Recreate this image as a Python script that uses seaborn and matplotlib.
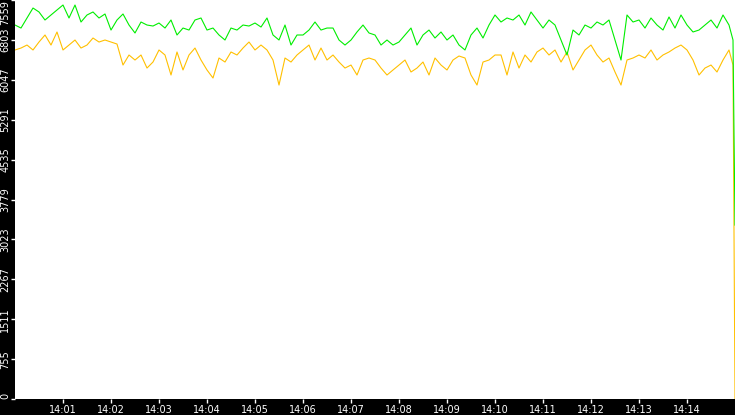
import numpy as np
import pandas as pd
import matplotlib
matplotlib.use("Agg")
import matplotlib.pyplot as plt
import seaborn as sns

# seconds after 14:00:00
times = [i * 7.5 for i in range(120)] + [897.5, 900.0]

green = [7085, 7028, 7218, 7407, 7332, 7180, 7275, 7370, 7464, 7218, 7464, 7142, 7275, 7332, 7218, 7294, 6990, 7180, 7294, 7085,
         6934, 7142, 7085, 7066, 7123, 7028, 7180, 6896, 7028, 6990, 7180, 7218, 6990, 7028, 6896, 6801, 7028, 6990, 7085, 7066,
         7123, 7047, 7218, 6896, 6801, 7085, 6706, 6896, 6896, 6990, 7142, 6990, 7028, 7028, 6801, 6706, 6801, 6953, 7085, 6934,
         6896, 6706, 6801, 6706, 6763, 6896, 7028, 6706, 6896, 6990, 6839, 6953, 6801, 6896, 6706, 6612, 6896, 7028, 6839, 7085,
         7275, 7142, 7218, 7180, 7275, 7085, 7332, 7180, 7028, 7180, 7085, 6801, 6517, 6990, 6896, 7085, 7028, 7142, 7085, 7180,
         6801, 6422, 7275, 7142, 7180, 7028, 7218, 7085, 6990, 7237, 7028, 7275, 7085, 6953, 6990, 7085, 7180, 7028, 7275, 7085,
         6801, 3295]

orange = [6612, 6649, 6706, 6612, 6763, 6896, 6706, 6953, 6612, 6706, 6801, 6649, 6706, 6839, 6763, 6801, 6763, 6725, 6327, 6517,
          6422, 6517, 6270, 6384, 6612, 6517, 6138, 6574, 6233, 6517, 6649, 6422, 6233, 6081, 6460, 6384, 6574, 6517, 6649, 6763,
          6612, 6706, 6612, 6422, 5948, 6460, 6384, 6517, 6612, 6706, 6422, 6649, 6422, 6517, 6384, 6270, 6327, 6138, 6422, 6460,
          6422, 6270, 6138, 6233, 6327, 6422, 6195, 6270, 6384, 6138, 6460, 6327, 6233, 6422, 6498, 6460, 6138, 5948, 6384, 6422,
          6517, 6517, 6138, 6574, 6270, 6517, 6384, 6574, 6649, 6517, 6612, 6384, 6574, 6233, 6422, 6612, 6706, 6517, 6384, 6460,
          6195, 5948, 6422, 6460, 6517, 6460, 6612, 6422, 6517, 6574, 6649, 6706, 6612, 6422, 6138, 6270, 6327, 6195, 6422, 6612,
          6327, 0]

yticks = [0, 755, 1511, 2267, 3023, 3779, 4535, 5291, 6047, 6803, 7559]
xtick_labels = ["14:01", "14:02", "14:03", "14:04", "14:05", "14:06", "14:07",
                "14:08", "14:09", "14:10", "14:11", "14:12", "14:13", "14:14"]

df = pd.DataFrame({"t": times, "green": green, "orange": orange})

fig = plt.figure(figsize=(7.35, 4.15), dpi=100, facecolor="black")
ax = fig.add_axes([15 / 735, 16 / 415, 720 / 735, 399 / 415])
ax.set_facecolor("white")
sns.lineplot(data=df, x="t", y="orange", ax=ax, color="#ffc000", linewidth=0.8)
sns.lineplot(data=df, x="t", y="green", ax=ax, color="#00ee00", linewidth=0.8)
ax.set_xlim(0, 900)
ax.set_ylim(0, 7559)
ax.set_xticks([60 * (i + 1) for i in range(len(xtick_labels))])
ax.set_xticklabels(xtick_labels)
ax.set_yticks(yticks)
ax.set_yticklabels([str(v) for v in yticks], rotation=90, va="center")
labs = ax.get_yticklabels()
labs[-1].set_va("top")
labs[0].set_va("bottom")
ax.tick_params(colors="white", labelsize=7, length=3, width=1)
ax.tick_params(axis="y", pad=0.5)
ax.tick_params(axis="x", pad=1)
ax.set_xlabel("")
ax.set_ylabel("")
for s in ax.spines.values():
    s.set_visible(False)
fig.savefig("out.png", dpi=100, facecolor="black")
